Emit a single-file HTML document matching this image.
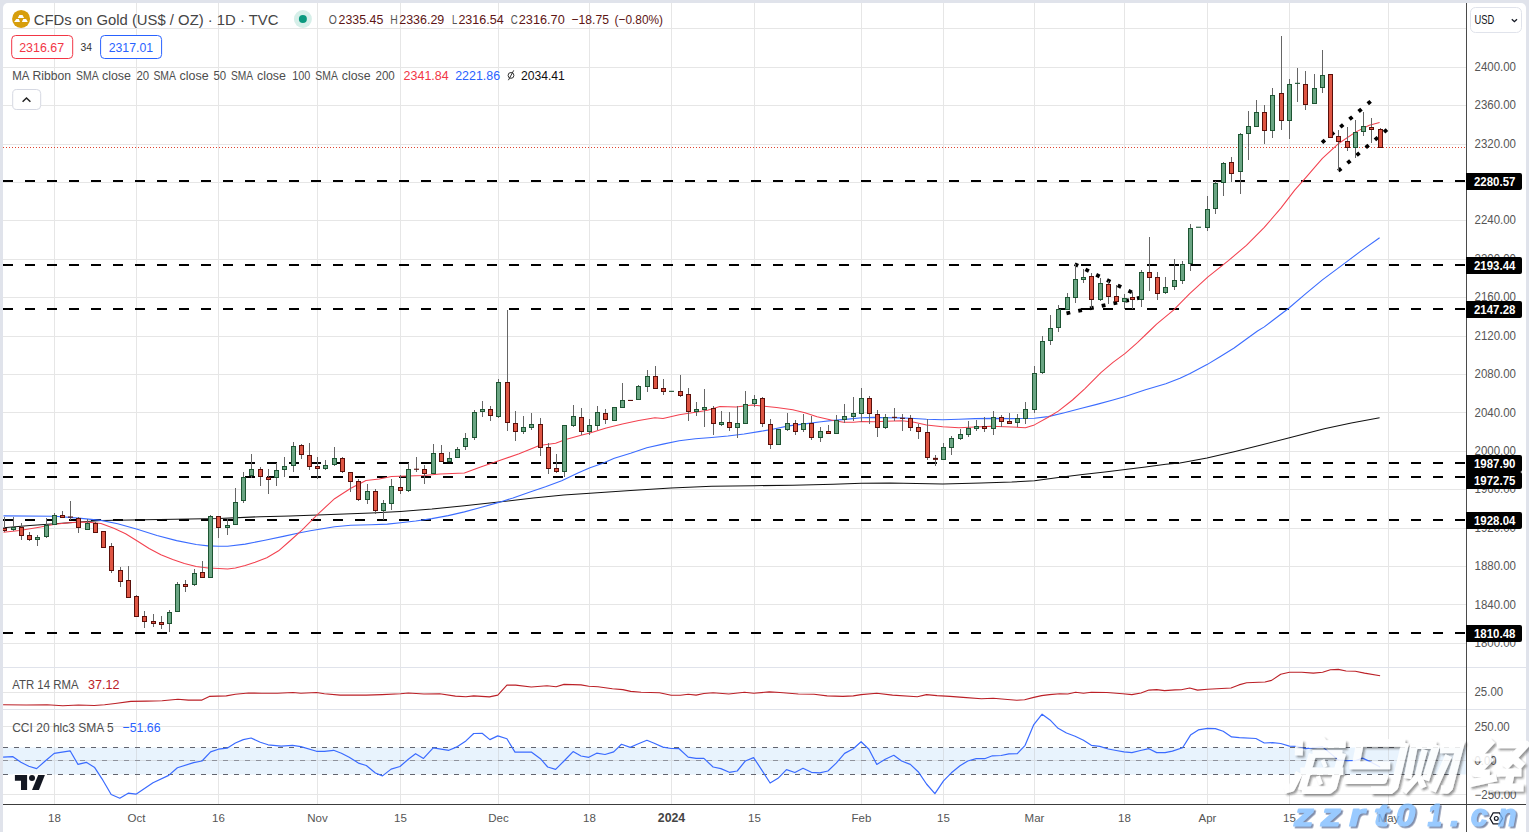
<!DOCTYPE html>
<html><head><meta charset="utf-8"><title>CFDs on Gold</title>
<style>html,body{margin:0;padding:0;background:#e0e3eb;}body{width:1529px;height:832px;overflow:hidden;font-family:"Liberation Sans",sans-serif;}</style>
</head><body>
<svg width="1529" height="832" viewBox="0 0 1529 832" font-family="Liberation Sans, sans-serif" style="display:block">
<defs>
<clipPath id="cm"><rect x="3" y="3" width="1463" height="664"/></clipPath>
<clipPath id="ca"><rect x="3" y="668" width="1463" height="41"/></clipPath>
<clipPath id="cc"><rect x="3" y="710" width="1463" height="94"/></clipPath>
<filter id="ws" x="-5%" y="-10%" width="115%" height="125%"><feDropShadow dx="2" dy="2" stdDeviation="1" flood-color="#222" flood-opacity="0.55"/></filter>
<filter id="bs" x="-5%" y="-10%" width="115%" height="130%"><feDropShadow dx="1.7" dy="1.7" stdDeviation="0.45" flood-color="#52658c" flood-opacity="0.95"/></filter>
</defs>
<rect width="1529" height="832" fill="#e0e3eb"/>
<path d="M3 832V8a5 5 0 0 1 5 -5H1521a5 5 0 0 1 5 5V832z" fill="#fff"/>
<rect x="54" y="3" width="1" height="664" fill="#e6e6e6"/>
<rect x="136" y="3" width="1" height="664" fill="#e6e6e6"/>
<rect x="218" y="3" width="1" height="664" fill="#e6e6e6"/>
<rect x="317" y="3" width="1" height="664" fill="#e6e6e6"/>
<rect x="400" y="3" width="1" height="664" fill="#e6e6e6"/>
<rect x="498" y="3" width="1" height="664" fill="#e6e6e6"/>
<rect x="589" y="3" width="1" height="664" fill="#e6e6e6"/>
<rect x="671" y="3" width="1" height="664" fill="#e6e6e6"/>
<rect x="754" y="3" width="1" height="664" fill="#e6e6e6"/>
<rect x="861" y="3" width="1" height="664" fill="#e6e6e6"/>
<rect x="943" y="3" width="1" height="664" fill="#e6e6e6"/>
<rect x="1034" y="3" width="1" height="664" fill="#e6e6e6"/>
<rect x="1124" y="3" width="1" height="664" fill="#e6e6e6"/>
<rect x="1207" y="3" width="1" height="664" fill="#e6e6e6"/>
<rect x="1289" y="3" width="1" height="664" fill="#e6e6e6"/>
<rect x="1388" y="3" width="1" height="664" fill="#e6e6e6"/>
<rect x="3" y="643" width="1463" height="1" fill="#e6e6e6"/>
<rect x="3" y="604" width="1463" height="1" fill="#e6e6e6"/>
<rect x="3" y="566" width="1463" height="1" fill="#e6e6e6"/>
<rect x="3" y="528" width="1463" height="1" fill="#e6e6e6"/>
<rect x="3" y="489" width="1463" height="1" fill="#e6e6e6"/>
<rect x="3" y="451" width="1463" height="1" fill="#e6e6e6"/>
<rect x="3" y="412" width="1463" height="1" fill="#e6e6e6"/>
<rect x="3" y="374" width="1463" height="1" fill="#e6e6e6"/>
<rect x="3" y="336" width="1463" height="1" fill="#e6e6e6"/>
<rect x="3" y="297" width="1463" height="1" fill="#e6e6e6"/>
<rect x="3" y="259" width="1463" height="1" fill="#e6e6e6"/>
<rect x="3" y="220" width="1463" height="1" fill="#e6e6e6"/>
<rect x="3" y="182" width="1463" height="1" fill="#e6e6e6"/>
<rect x="3" y="144" width="1463" height="1" fill="#e6e6e6"/>
<rect x="3" y="105" width="1463" height="1" fill="#e6e6e6"/>
<rect x="3" y="67" width="1463" height="1" fill="#e6e6e6"/>
<rect x="3" y="28" width="1463" height="1" fill="#e6e6e6"/>
<rect x="54" y="668" width="1" height="136" fill="#e6e6e6"/>
<rect x="136" y="668" width="1" height="136" fill="#e6e6e6"/>
<rect x="218" y="668" width="1" height="136" fill="#e6e6e6"/>
<rect x="317" y="668" width="1" height="136" fill="#e6e6e6"/>
<rect x="400" y="668" width="1" height="136" fill="#e6e6e6"/>
<rect x="498" y="668" width="1" height="136" fill="#e6e6e6"/>
<rect x="589" y="668" width="1" height="136" fill="#e6e6e6"/>
<rect x="671" y="668" width="1" height="136" fill="#e6e6e6"/>
<rect x="754" y="668" width="1" height="136" fill="#e6e6e6"/>
<rect x="861" y="668" width="1" height="136" fill="#e6e6e6"/>
<rect x="943" y="668" width="1" height="136" fill="#e6e6e6"/>
<rect x="1034" y="668" width="1" height="136" fill="#e6e6e6"/>
<rect x="1124" y="668" width="1" height="136" fill="#e6e6e6"/>
<rect x="1207" y="668" width="1" height="136" fill="#e6e6e6"/>
<rect x="1289" y="668" width="1" height="136" fill="#e6e6e6"/>
<rect x="1388" y="668" width="1" height="136" fill="#e6e6e6"/>
<rect x="3" y="692" width="1463" height="1" fill="#e6e6e6"/>
<rect x="3" y="726" width="1463" height="1" fill="#e6e6e6"/>
<rect x="3" y="760" width="1463" height="1" fill="#e6e6e6"/>
<rect x="3" y="794" width="1463" height="1" fill="#e6e6e6"/>
<rect x="3" y="667" width="1523" height="1" fill="#e0e3eb"/>
<rect x="3" y="709" width="1523" height="1" fill="#e0e3eb"/>
<g clip-path="url(#cm)">
<line x1="3" y1="181" x2="1466" y2="181" stroke="#000" stroke-width="2" stroke-dasharray="10 12"/>
<line x1="3" y1="265" x2="1466" y2="265" stroke="#000" stroke-width="2" stroke-dasharray="10 12"/>
<line x1="3" y1="309" x2="1466" y2="309" stroke="#000" stroke-width="2" stroke-dasharray="10 12"/>
<line x1="3" y1="463" x2="1466" y2="463" stroke="#000" stroke-width="2" stroke-dasharray="10 12"/>
<line x1="3" y1="477" x2="1466" y2="477" stroke="#000" stroke-width="2" stroke-dasharray="10 12"/>
<line x1="3" y1="520" x2="1466" y2="520" stroke="#000" stroke-width="2" stroke-dasharray="10 12"/>
<line x1="3" y1="633" x2="1466" y2="633" stroke="#000" stroke-width="2" stroke-dasharray="10 12"/>
<polyline fill="none" stroke="#111" stroke-width="1.05" stroke-linejoin="round"  points="3.5,527.7 30,525.5 55,523.7 80,522 101,520.5 160,519.5 218.8,518.4 260,516.7 290,516 317.4,515 371.1,513.1 400.5,511.5 431.9,509.1 464.4,505.8 498.8,502 533.3,497.9 563.7,494.9 590,493.2 630.6,490.4 671.1,488.1 711.7,486.3 754.2,485.7 792.8,485.3 833.3,484.3 861.7,483.3 890,483.1 942.7,484.1 981.2,483.1 1011.7,482.1 1034.4,480.7 1058.3,477.6 1082.6,474.4 1104.9,471.9 1125.2,469.5 1145.5,466.9 1165.8,464.2 1180,463 1207,458 1234.1,451.7 1261.2,445.1 1289.5,437.8 1324.3,428.8 1351.3,422.9 1379.6,417.8"/>
<polyline fill="none" stroke="#3b6cff" stroke-width="1.1" stroke-linejoin="round"  points="3.5,515.9 55,516.3 78.5,518.1 101,520.4 117.7,523.7 137.3,529.2 157,535.5 176.6,540.6 196.2,544.5 208,545.9 218.8,546.3 227.6,546.3 245.2,544.1 264.9,540.2 284.5,536.1 300,532.7 310.3,530.8 334.6,526.7 350.8,525.3 371.1,524.7 387.3,524.1 400.5,522.7 415.7,521 431.9,518.6 448.2,515.6 464.4,511.9 480.6,507.5 498.8,502.4 513,497.9 529.3,492.3 545.5,486.8 561.7,480.7 577.9,473 590,467.7 602.2,463.4 614.3,458.3 630.6,453.3 646.8,447.8 663,444.1 679.2,440.7 695.4,438.7 711.7,437.5 727.9,436 744.1,434 760.3,431.4 772.5,429.3 788.7,425.9 804.9,423.9 821.1,421.8 833.3,420.4 845.5,419.4 861.7,417.8 873.9,417.4 886,417.8 900,417.9 910.3,418.2 926.5,419.2 942.7,419.8 958.9,419.2 975.2,418.6 991.4,418.4 1011.7,418.6 1034.4,418.2 1048.2,416.6 1064.4,412.7 1080.6,408.5 1096.8,404.4 1113,400 1125.2,396.5 1145.5,389.8 1165.8,383.7 1180,378.3 1190.1,373.6 1207,364.6 1220,356.8 1234.1,348 1244.4,340.5 1257.5,331 1264.3,326.9 1287.8,309 1305.8,293.7 1322.4,279.9 1344.5,263.4 1361.1,250.9 1379.6,237.7"/>
<polyline fill="none" stroke="#f3414f" stroke-width="1.05" stroke-linejoin="round"  points="3.5,532.2 19.6,530.6 39.2,527.3 55,524.3 68.7,522.8 86.3,522 101,523.4 113.8,528.3 125.6,533.8 137.3,541 149.1,548.5 160.9,554.7 172.7,559.6 184.4,563.6 196.2,566.5 208,568.1 218.8,568.5 227.6,568.9 235.4,568.1 245.2,565.5 255.1,562.2 266.8,557.7 278.6,550.8 290.4,540.5 302.2,529.8 317.4,514.6 334.6,498.7 350.8,488.2 366,480.5 379.2,479.1 391.4,476.6 407.6,476 423.8,475.4 440,474 464.4,473 480.6,466.9 498.8,460.8 519.1,453.7 539.4,445.6 555.6,443.2 565.7,439.5 582,434.9 590,433 606.2,427.9 622.4,423.9 638.7,420.4 654.9,417.8 663,418.4 679.2,414.7 695.4,412.3 707.6,410.3 719.8,406.6 736,407 752.2,405 764.4,406.2 776.5,407.6 792.8,409.7 804.9,412.7 817.1,416.8 833.3,420.4 843.5,422.2 853.6,422.2 861.7,421.4 873.9,421.8 886,421.2 902.2,420.8 914.3,422.3 926.5,424.9 942.7,426.7 958.9,427.7 975.2,426.9 991.4,426.3 1011.7,426.9 1025.4,427.7 1034.4,424.9 1048.2,417.2 1058.3,411.1 1072.5,400 1084.7,388.8 1100.9,372.6 1113,362.4 1125.2,353.3 1137.4,342.6 1149.5,331 1156.6,324.1 1173.2,310.3 1189.7,293.7 1207.7,277.2 1228.4,260.6 1246.4,245.4 1264.3,227.4 1280.9,208.1 1294.7,190.1 1305.8,177.7 1322.4,158.4 1339,143.2 1355.5,132.1 1369.3,125.2 1379.6,122.4"/>
<line x1="3" y1="147.5" x2="1466" y2="147.5" stroke="#e0442f" stroke-width="1" stroke-dasharray="1 2"/>
<line x1="1074.7" y1="264.1" x2="1132.1" y2="292.5" stroke="#000" stroke-width="3.8" stroke-dasharray="3.8 8.2"/>
<line x1="1066.5" y1="313.3" x2="1140.9" y2="297.6" stroke="#000" stroke-width="3.8" stroke-dasharray="3.8 8.2"/>
<line x1="1322" y1="142.6" x2="1370.8" y2="101.2" stroke="#000" stroke-width="3.8" stroke-dasharray="3.8 8.2"/>
<line x1="1338.3" y1="170.9" x2="1387.1" y2="129.5" stroke="#000" stroke-width="3.8" stroke-dasharray="3.8 8.2"/>
<rect x="4" y="517" width="1" height="15" fill="#666"/>
<rect x="2" y="528" width="5" height="3" fill="#5a0f0a"/>
<rect x="3" y="529" width="3" height="1" fill="#de5543"/>
<rect x="13" y="517" width="1" height="14" fill="#666"/>
<rect x="11" y="527" width="5" height="3" fill="#1d5432"/>
<rect x="12" y="528" width="3" height="1" fill="#6aa583"/>
<rect x="21" y="523" width="1" height="17" fill="#666"/>
<rect x="19" y="527" width="5" height="9" fill="#5a0f0a"/>
<rect x="20" y="528" width="3" height="7" fill="#de5543"/>
<rect x="29" y="532" width="1" height="9" fill="#666"/>
<rect x="27" y="535" width="5" height="5" fill="#5a0f0a"/>
<rect x="28" y="536" width="3" height="3" fill="#de5543"/>
<rect x="37" y="535" width="1" height="11" fill="#666"/>
<rect x="35" y="537" width="5" height="3" fill="#1d5432"/>
<rect x="36" y="538" width="3" height="1" fill="#6aa583"/>
<rect x="46" y="518" width="1" height="20" fill="#666"/>
<rect x="44" y="525" width="5" height="12" fill="#1d5432"/>
<rect x="45" y="526" width="3" height="10" fill="#6aa583"/>
<rect x="54" y="513" width="1" height="12" fill="#666"/>
<rect x="52" y="515" width="5" height="10" fill="#1d5432"/>
<rect x="53" y="516" width="3" height="8" fill="#6aa583"/>
<rect x="62" y="511" width="1" height="7" fill="#666"/>
<rect x="60" y="515" width="5" height="3" fill="#5a0f0a"/>
<rect x="61" y="516" width="3" height="1" fill="#de5543"/>
<rect x="70" y="501" width="1" height="19" fill="#666"/>
<rect x="68" y="516.5" width="5" height="1.1" fill="#5a0f0a"/>
<rect x="78" y="517" width="1" height="16" fill="#666"/>
<rect x="76" y="518" width="5" height="10" fill="#5a0f0a"/>
<rect x="77" y="519" width="3" height="8" fill="#de5543"/>
<rect x="87" y="519" width="1" height="11" fill="#666"/>
<rect x="85" y="523" width="5" height="7" fill="#1d5432"/>
<rect x="86" y="524" width="3" height="5" fill="#6aa583"/>
<rect x="95" y="522" width="1" height="11" fill="#666"/>
<rect x="93" y="523" width="5" height="10" fill="#5a0f0a"/>
<rect x="94" y="524" width="3" height="8" fill="#de5543"/>
<rect x="103" y="531" width="1" height="17" fill="#666"/>
<rect x="101" y="531" width="5" height="17" fill="#5a0f0a"/>
<rect x="102" y="532" width="3" height="15" fill="#de5543"/>
<rect x="111" y="543" width="1" height="30" fill="#666"/>
<rect x="109" y="546" width="5" height="25" fill="#5a0f0a"/>
<rect x="110" y="547" width="3" height="23" fill="#de5543"/>
<rect x="120" y="567" width="1" height="20" fill="#666"/>
<rect x="118" y="570" width="5" height="12" fill="#5a0f0a"/>
<rect x="119" y="571" width="3" height="10" fill="#de5543"/>
<rect x="128" y="566" width="1" height="32" fill="#666"/>
<rect x="126" y="580" width="5" height="18" fill="#5a0f0a"/>
<rect x="127" y="581" width="3" height="16" fill="#de5543"/>
<rect x="136" y="595" width="1" height="22" fill="#666"/>
<rect x="134" y="596" width="5" height="21" fill="#5a0f0a"/>
<rect x="135" y="597" width="3" height="19" fill="#de5543"/>
<rect x="144" y="611" width="1" height="17" fill="#666"/>
<rect x="142" y="616" width="5" height="6" fill="#5a0f0a"/>
<rect x="143" y="617" width="3" height="4" fill="#de5543"/>
<rect x="153" y="614" width="1" height="13" fill="#666"/>
<rect x="151" y="621" width="5" height="3" fill="#5a0f0a"/>
<rect x="152" y="622" width="3" height="1" fill="#de5543"/>
<rect x="161" y="616" width="1" height="13" fill="#666"/>
<rect x="159" y="622" width="5" height="3" fill="#5a0f0a"/>
<rect x="160" y="623" width="3" height="1" fill="#de5543"/>
<rect x="169" y="610" width="1" height="22" fill="#666"/>
<rect x="167" y="612" width="5" height="12" fill="#1d5432"/>
<rect x="168" y="613" width="3" height="10" fill="#6aa583"/>
<rect x="177" y="582" width="1" height="30" fill="#666"/>
<rect x="175" y="584" width="5" height="28" fill="#1d5432"/>
<rect x="176" y="585" width="3" height="26" fill="#6aa583"/>
<rect x="185" y="580" width="1" height="12" fill="#666"/>
<rect x="183" y="584" width="5" height="3" fill="#5a0f0a"/>
<rect x="184" y="585" width="3" height="1" fill="#de5543"/>
<rect x="194" y="569" width="1" height="17" fill="#666"/>
<rect x="192" y="573" width="5" height="12" fill="#1d5432"/>
<rect x="193" y="574" width="3" height="10" fill="#6aa583"/>
<rect x="202" y="561" width="1" height="17" fill="#666"/>
<rect x="200" y="572" width="5" height="6" fill="#5a0f0a"/>
<rect x="201" y="573" width="3" height="4" fill="#de5543"/>
<rect x="210" y="515" width="1" height="63" fill="#666"/>
<rect x="208" y="516" width="5" height="62" fill="#1d5432"/>
<rect x="209" y="517" width="3" height="60" fill="#6aa583"/>
<rect x="218" y="516" width="1" height="22" fill="#666"/>
<rect x="216" y="516" width="5" height="12" fill="#5a0f0a"/>
<rect x="217" y="517" width="3" height="10" fill="#de5543"/>
<rect x="227" y="518" width="1" height="17" fill="#666"/>
<rect x="225" y="525" width="5" height="3" fill="#1d5432"/>
<rect x="226" y="526" width="3" height="1" fill="#6aa583"/>
<rect x="235" y="488" width="1" height="37" fill="#666"/>
<rect x="233" y="502" width="5" height="23" fill="#1d5432"/>
<rect x="234" y="503" width="3" height="21" fill="#6aa583"/>
<rect x="243" y="472" width="1" height="31" fill="#666"/>
<rect x="241" y="477" width="5" height="24" fill="#1d5432"/>
<rect x="242" y="478" width="3" height="22" fill="#6aa583"/>
<rect x="251" y="454" width="1" height="24" fill="#666"/>
<rect x="249" y="469" width="5" height="7" fill="#1d5432"/>
<rect x="250" y="470" width="3" height="5" fill="#6aa583"/>
<rect x="260" y="467" width="1" height="19" fill="#666"/>
<rect x="258" y="469" width="5" height="8" fill="#5a0f0a"/>
<rect x="259" y="470" width="3" height="6" fill="#de5543"/>
<rect x="268" y="469" width="1" height="25" fill="#666"/>
<rect x="266" y="477" width="5" height="3" fill="#5a0f0a"/>
<rect x="267" y="478" width="3" height="1" fill="#de5543"/>
<rect x="276" y="463" width="1" height="23" fill="#666"/>
<rect x="274" y="470" width="5" height="8" fill="#1d5432"/>
<rect x="275" y="471" width="3" height="6" fill="#6aa583"/>
<rect x="284" y="457" width="1" height="20" fill="#666"/>
<rect x="282" y="466" width="5" height="4" fill="#1d5432"/>
<rect x="283" y="467" width="3" height="2" fill="#6aa583"/>
<rect x="293" y="442" width="1" height="30" fill="#666"/>
<rect x="291" y="446" width="5" height="20" fill="#1d5432"/>
<rect x="292" y="447" width="3" height="18" fill="#6aa583"/>
<rect x="301" y="444" width="1" height="15" fill="#666"/>
<rect x="299" y="445" width="5" height="10" fill="#5a0f0a"/>
<rect x="300" y="446" width="3" height="8" fill="#de5543"/>
<rect x="309" y="443" width="1" height="27" fill="#666"/>
<rect x="307" y="455" width="5" height="12" fill="#5a0f0a"/>
<rect x="308" y="456" width="3" height="10" fill="#de5543"/>
<rect x="317" y="457" width="1" height="22" fill="#666"/>
<rect x="315" y="466" width="5" height="3" fill="#5a0f0a"/>
<rect x="316" y="467" width="3" height="1" fill="#de5543"/>
<rect x="325" y="460" width="1" height="10" fill="#666"/>
<rect x="323" y="465" width="5" height="4" fill="#1d5432"/>
<rect x="324" y="466" width="3" height="2" fill="#6aa583"/>
<rect x="334" y="447" width="1" height="19" fill="#666"/>
<rect x="332" y="458" width="5" height="7" fill="#1d5432"/>
<rect x="333" y="459" width="3" height="5" fill="#6aa583"/>
<rect x="342" y="457" width="1" height="16" fill="#666"/>
<rect x="340" y="458" width="5" height="14" fill="#5a0f0a"/>
<rect x="341" y="459" width="3" height="12" fill="#de5543"/>
<rect x="350" y="472" width="1" height="20" fill="#666"/>
<rect x="348" y="472" width="5" height="10" fill="#5a0f0a"/>
<rect x="349" y="473" width="3" height="8" fill="#de5543"/>
<rect x="358" y="479" width="1" height="22" fill="#666"/>
<rect x="356" y="481" width="5" height="19" fill="#5a0f0a"/>
<rect x="357" y="482" width="3" height="17" fill="#de5543"/>
<rect x="367" y="484" width="1" height="20" fill="#666"/>
<rect x="365" y="491" width="5" height="9" fill="#1d5432"/>
<rect x="366" y="492" width="3" height="7" fill="#6aa583"/>
<rect x="375" y="489" width="1" height="25" fill="#666"/>
<rect x="373" y="491" width="5" height="20" fill="#5a0f0a"/>
<rect x="374" y="492" width="3" height="18" fill="#de5543"/>
<rect x="383" y="500" width="1" height="20" fill="#666"/>
<rect x="381" y="503" width="5" height="8" fill="#1d5432"/>
<rect x="382" y="504" width="3" height="6" fill="#6aa583"/>
<rect x="391" y="479" width="1" height="31" fill="#666"/>
<rect x="389" y="486" width="5" height="18" fill="#1d5432"/>
<rect x="390" y="487" width="3" height="16" fill="#6aa583"/>
<rect x="400" y="475" width="1" height="19" fill="#666"/>
<rect x="398" y="487" width="5" height="4" fill="#5a0f0a"/>
<rect x="399" y="488" width="3" height="2" fill="#de5543"/>
<rect x="408" y="463" width="1" height="29" fill="#666"/>
<rect x="406" y="469" width="5" height="22" fill="#1d5432"/>
<rect x="407" y="470" width="3" height="20" fill="#6aa583"/>
<rect x="416" y="457" width="1" height="15" fill="#666"/>
<rect x="414" y="468.7" width="5" height="1.1" fill="#5a0f0a"/>
<rect x="424" y="465" width="1" height="19" fill="#666"/>
<rect x="422" y="469" width="5" height="5" fill="#5a0f0a"/>
<rect x="423" y="470" width="3" height="3" fill="#de5543"/>
<rect x="433" y="444" width="1" height="30" fill="#666"/>
<rect x="431" y="453" width="5" height="21" fill="#1d5432"/>
<rect x="432" y="454" width="3" height="19" fill="#6aa583"/>
<rect x="441" y="445" width="1" height="17" fill="#666"/>
<rect x="439" y="453" width="5" height="9" fill="#5a0f0a"/>
<rect x="440" y="454" width="3" height="7" fill="#de5543"/>
<rect x="449" y="452" width="1" height="10" fill="#666"/>
<rect x="447" y="458" width="5" height="4" fill="#1d5432"/>
<rect x="448" y="459" width="3" height="2" fill="#6aa583"/>
<rect x="457" y="447" width="1" height="11" fill="#666"/>
<rect x="455" y="449" width="5" height="9" fill="#1d5432"/>
<rect x="456" y="450" width="3" height="7" fill="#6aa583"/>
<rect x="465" y="433" width="1" height="17" fill="#666"/>
<rect x="463" y="438" width="5" height="9" fill="#1d5432"/>
<rect x="464" y="439" width="3" height="7" fill="#6aa583"/>
<rect x="474" y="410" width="1" height="30" fill="#666"/>
<rect x="472" y="412" width="5" height="26" fill="#1d5432"/>
<rect x="473" y="413" width="3" height="24" fill="#6aa583"/>
<rect x="482" y="401" width="1" height="16" fill="#666"/>
<rect x="480" y="409" width="5" height="3" fill="#1d5432"/>
<rect x="481" y="410" width="3" height="1" fill="#6aa583"/>
<rect x="490" y="406" width="1" height="15" fill="#666"/>
<rect x="488" y="409" width="5" height="7" fill="#5a0f0a"/>
<rect x="489" y="410" width="3" height="5" fill="#de5543"/>
<rect x="498" y="379" width="1" height="39" fill="#666"/>
<rect x="496" y="382" width="5" height="35" fill="#1d5432"/>
<rect x="497" y="383" width="3" height="33" fill="#6aa583"/>
<rect x="507" y="310" width="1" height="121" fill="#666"/>
<rect x="505" y="382" width="5" height="41" fill="#5a0f0a"/>
<rect x="506" y="383" width="3" height="39" fill="#de5543"/>
<rect x="515" y="411" width="1" height="30" fill="#666"/>
<rect x="513" y="423" width="5" height="9" fill="#5a0f0a"/>
<rect x="514" y="424" width="3" height="7" fill="#de5543"/>
<rect x="523" y="416" width="1" height="18" fill="#666"/>
<rect x="521" y="427" width="5" height="5" fill="#1d5432"/>
<rect x="522" y="428" width="3" height="3" fill="#6aa583"/>
<rect x="531" y="413" width="1" height="17" fill="#666"/>
<rect x="529" y="424" width="5" height="4" fill="#1d5432"/>
<rect x="530" y="425" width="3" height="2" fill="#6aa583"/>
<rect x="540" y="418" width="1" height="38" fill="#666"/>
<rect x="538" y="424" width="5" height="24" fill="#5a0f0a"/>
<rect x="539" y="425" width="3" height="22" fill="#de5543"/>
<rect x="548" y="443" width="1" height="31" fill="#666"/>
<rect x="546" y="447" width="5" height="22" fill="#5a0f0a"/>
<rect x="547" y="448" width="3" height="20" fill="#de5543"/>
<rect x="556" y="454" width="1" height="19" fill="#666"/>
<rect x="554" y="468" width="5" height="4" fill="#5a0f0a"/>
<rect x="555" y="469" width="3" height="2" fill="#de5543"/>
<rect x="564" y="425" width="1" height="52" fill="#666"/>
<rect x="562" y="425" width="5" height="47" fill="#1d5432"/>
<rect x="563" y="426" width="3" height="45" fill="#6aa583"/>
<rect x="573" y="405" width="1" height="22" fill="#666"/>
<rect x="571" y="416" width="5" height="10" fill="#1d5432"/>
<rect x="572" y="417" width="3" height="8" fill="#6aa583"/>
<rect x="581" y="408" width="1" height="27" fill="#666"/>
<rect x="579" y="417" width="5" height="15" fill="#5a0f0a"/>
<rect x="580" y="418" width="3" height="13" fill="#de5543"/>
<rect x="589" y="419" width="1" height="16" fill="#666"/>
<rect x="587" y="425" width="5" height="7" fill="#1d5432"/>
<rect x="588" y="426" width="3" height="5" fill="#6aa583"/>
<rect x="597" y="406" width="1" height="24" fill="#666"/>
<rect x="595" y="412" width="5" height="14" fill="#1d5432"/>
<rect x="596" y="413" width="3" height="12" fill="#6aa583"/>
<rect x="605" y="409" width="1" height="15" fill="#666"/>
<rect x="603" y="413" width="5" height="7" fill="#5a0f0a"/>
<rect x="604" y="414" width="3" height="5" fill="#de5543"/>
<rect x="614" y="407" width="1" height="14" fill="#666"/>
<rect x="612" y="407" width="5" height="14" fill="#1d5432"/>
<rect x="613" y="408" width="3" height="12" fill="#6aa583"/>
<rect x="622" y="383" width="1" height="25" fill="#666"/>
<rect x="620" y="400" width="5" height="8" fill="#1d5432"/>
<rect x="621" y="401" width="3" height="6" fill="#6aa583"/>
<rect x="630" y="400" width="1" height="0.4" fill="#666"/>
<rect x="628" y="399.9" width="5" height="1.1" fill="#5a0f0a"/>
<rect x="638" y="385" width="1" height="15" fill="#666"/>
<rect x="636" y="386" width="5" height="14" fill="#1d5432"/>
<rect x="637" y="387" width="3" height="12" fill="#6aa583"/>
<rect x="647" y="370" width="1" height="22" fill="#666"/>
<rect x="645" y="376" width="5" height="11" fill="#1d5432"/>
<rect x="646" y="377" width="3" height="9" fill="#6aa583"/>
<rect x="655" y="366" width="1" height="23" fill="#666"/>
<rect x="653" y="376" width="5" height="13" fill="#5a0f0a"/>
<rect x="654" y="377" width="3" height="11" fill="#de5543"/>
<rect x="663" y="379" width="1" height="16" fill="#666"/>
<rect x="661" y="388" width="5" height="4" fill="#5a0f0a"/>
<rect x="662" y="389" width="3" height="2" fill="#de5543"/>
<rect x="671" y="391" width="1" height="0.3" fill="#666"/>
<rect x="669" y="390.8" width="5" height="1.1" fill="#1d5432"/>
<rect x="680" y="375" width="1" height="22" fill="#666"/>
<rect x="678" y="391" width="5" height="5" fill="#5a0f0a"/>
<rect x="679" y="392" width="3" height="3" fill="#de5543"/>
<rect x="688" y="388" width="1" height="33" fill="#666"/>
<rect x="686" y="394" width="5" height="18" fill="#5a0f0a"/>
<rect x="687" y="395" width="3" height="16" fill="#de5543"/>
<rect x="696" y="402" width="1" height="14" fill="#666"/>
<rect x="694" y="409" width="5" height="3" fill="#1d5432"/>
<rect x="695" y="410" width="3" height="1" fill="#6aa583"/>
<rect x="704" y="389" width="1" height="38" fill="#666"/>
<rect x="702" y="407" width="5" height="3" fill="#1d5432"/>
<rect x="703" y="408" width="3" height="1" fill="#6aa583"/>
<rect x="713" y="406" width="1" height="29" fill="#666"/>
<rect x="711" y="408" width="5" height="16" fill="#5a0f0a"/>
<rect x="712" y="409" width="3" height="14" fill="#de5543"/>
<rect x="721" y="411" width="1" height="15" fill="#666"/>
<rect x="719" y="422" width="5" height="3" fill="#1d5432"/>
<rect x="720" y="423" width="3" height="1" fill="#6aa583"/>
<rect x="729" y="412" width="1" height="19" fill="#666"/>
<rect x="727" y="422" width="5" height="6" fill="#5a0f0a"/>
<rect x="728" y="423" width="3" height="4" fill="#de5543"/>
<rect x="737" y="406" width="1" height="32" fill="#666"/>
<rect x="735" y="423" width="5" height="5" fill="#1d5432"/>
<rect x="736" y="424" width="3" height="3" fill="#6aa583"/>
<rect x="745" y="391" width="1" height="33" fill="#666"/>
<rect x="743" y="404" width="5" height="20" fill="#1d5432"/>
<rect x="744" y="405" width="3" height="18" fill="#6aa583"/>
<rect x="754" y="395" width="1" height="12" fill="#666"/>
<rect x="752" y="399" width="5" height="5" fill="#1d5432"/>
<rect x="753" y="400" width="3" height="3" fill="#6aa583"/>
<rect x="762" y="397" width="1" height="30" fill="#666"/>
<rect x="760" y="398" width="5" height="26" fill="#5a0f0a"/>
<rect x="761" y="399" width="3" height="24" fill="#de5543"/>
<rect x="770" y="419" width="1" height="30" fill="#666"/>
<rect x="768" y="424" width="5" height="21" fill="#5a0f0a"/>
<rect x="769" y="425" width="3" height="19" fill="#de5543"/>
<rect x="778" y="429" width="1" height="16" fill="#666"/>
<rect x="776" y="429" width="5" height="16" fill="#1d5432"/>
<rect x="777" y="430" width="3" height="14" fill="#6aa583"/>
<rect x="787" y="413" width="1" height="18" fill="#666"/>
<rect x="785" y="423" width="5" height="7" fill="#1d5432"/>
<rect x="786" y="424" width="3" height="5" fill="#6aa583"/>
<rect x="795" y="420" width="1" height="15" fill="#666"/>
<rect x="793" y="423" width="5" height="9" fill="#5a0f0a"/>
<rect x="794" y="424" width="3" height="7" fill="#de5543"/>
<rect x="803" y="414" width="1" height="18" fill="#666"/>
<rect x="801" y="423" width="5" height="7" fill="#1d5432"/>
<rect x="802" y="424" width="3" height="5" fill="#6aa583"/>
<rect x="811" y="416" width="1" height="24" fill="#666"/>
<rect x="809" y="423" width="5" height="15" fill="#5a0f0a"/>
<rect x="810" y="424" width="3" height="13" fill="#de5543"/>
<rect x="820" y="427" width="1" height="15" fill="#666"/>
<rect x="818" y="431" width="5" height="7" fill="#1d5432"/>
<rect x="819" y="432" width="3" height="5" fill="#6aa583"/>
<rect x="828" y="425" width="1" height="9" fill="#666"/>
<rect x="826" y="431" width="5" height="3" fill="#5a0f0a"/>
<rect x="827" y="432" width="3" height="1" fill="#de5543"/>
<rect x="836" y="415" width="1" height="19" fill="#666"/>
<rect x="834" y="420" width="5" height="14" fill="#1d5432"/>
<rect x="835" y="421" width="3" height="12" fill="#6aa583"/>
<rect x="844" y="404" width="1" height="19" fill="#666"/>
<rect x="842" y="416" width="5" height="4" fill="#1d5432"/>
<rect x="843" y="417" width="3" height="2" fill="#6aa583"/>
<rect x="853" y="397" width="1" height="24" fill="#666"/>
<rect x="851" y="413" width="5" height="4" fill="#1d5432"/>
<rect x="852" y="414" width="3" height="2" fill="#6aa583"/>
<rect x="861" y="388" width="1" height="34" fill="#666"/>
<rect x="859" y="398" width="5" height="16" fill="#1d5432"/>
<rect x="860" y="399" width="3" height="14" fill="#6aa583"/>
<rect x="869" y="396" width="1" height="28" fill="#666"/>
<rect x="867" y="398" width="5" height="16" fill="#5a0f0a"/>
<rect x="868" y="399" width="3" height="14" fill="#de5543"/>
<rect x="877" y="410" width="1" height="27" fill="#666"/>
<rect x="875" y="414" width="5" height="14" fill="#5a0f0a"/>
<rect x="876" y="415" width="3" height="12" fill="#de5543"/>
<rect x="885" y="414" width="1" height="15" fill="#666"/>
<rect x="883" y="417" width="5" height="11" fill="#1d5432"/>
<rect x="884" y="418" width="3" height="9" fill="#6aa583"/>
<rect x="894" y="408" width="1" height="13" fill="#666"/>
<rect x="892" y="416.8" width="5" height="1.1" fill="#5a0f0a"/>
<rect x="902" y="414" width="1" height="17" fill="#666"/>
<rect x="900" y="417.8" width="5" height="1.1" fill="#5a0f0a"/>
<rect x="910" y="415" width="1" height="16" fill="#666"/>
<rect x="908" y="418" width="5" height="10" fill="#5a0f0a"/>
<rect x="909" y="419" width="3" height="8" fill="#de5543"/>
<rect x="918" y="424" width="1" height="15" fill="#666"/>
<rect x="916" y="427" width="5" height="5" fill="#5a0f0a"/>
<rect x="917" y="428" width="3" height="3" fill="#de5543"/>
<rect x="927" y="419" width="1" height="41" fill="#666"/>
<rect x="925" y="432" width="5" height="26" fill="#5a0f0a"/>
<rect x="926" y="433" width="3" height="24" fill="#de5543"/>
<rect x="935" y="455" width="1" height="11" fill="#666"/>
<rect x="933" y="457.85" width="5" height="2" fill="#5a0f0a"/>
<rect x="943" y="443" width="1" height="17" fill="#666"/>
<rect x="941" y="447" width="5" height="13" fill="#1d5432"/>
<rect x="942" y="448" width="3" height="11" fill="#6aa583"/>
<rect x="951" y="436" width="1" height="19" fill="#666"/>
<rect x="949" y="438" width="5" height="10" fill="#1d5432"/>
<rect x="950" y="439" width="3" height="8" fill="#6aa583"/>
<rect x="960" y="429" width="1" height="11" fill="#666"/>
<rect x="958" y="434" width="5" height="5" fill="#1d5432"/>
<rect x="959" y="435" width="3" height="3" fill="#6aa583"/>
<rect x="968" y="421" width="1" height="16" fill="#666"/>
<rect x="966" y="428" width="5" height="7" fill="#1d5432"/>
<rect x="967" y="429" width="3" height="5" fill="#6aa583"/>
<rect x="976" y="420" width="1" height="11" fill="#666"/>
<rect x="974" y="426" width="5" height="3" fill="#1d5432"/>
<rect x="975" y="427" width="3" height="1" fill="#6aa583"/>
<rect x="984" y="417" width="1" height="15" fill="#666"/>
<rect x="982" y="426" width="5" height="3" fill="#5a0f0a"/>
<rect x="983" y="427" width="3" height="1" fill="#de5543"/>
<rect x="993" y="411" width="1" height="24" fill="#666"/>
<rect x="991" y="417" width="5" height="12" fill="#1d5432"/>
<rect x="992" y="418" width="3" height="10" fill="#6aa583"/>
<rect x="1001" y="415" width="1" height="12" fill="#666"/>
<rect x="999" y="417" width="5" height="5" fill="#5a0f0a"/>
<rect x="1000" y="418" width="3" height="3" fill="#de5543"/>
<rect x="1009" y="413" width="1" height="10" fill="#666"/>
<rect x="1007" y="421" width="5" height="3" fill="#5a0f0a"/>
<rect x="1008" y="422" width="3" height="1" fill="#de5543"/>
<rect x="1017" y="414" width="1" height="13" fill="#666"/>
<rect x="1015" y="418" width="5" height="5" fill="#1d5432"/>
<rect x="1016" y="419" width="3" height="3" fill="#6aa583"/>
<rect x="1025" y="402" width="1" height="22" fill="#666"/>
<rect x="1023" y="409" width="5" height="10" fill="#1d5432"/>
<rect x="1024" y="410" width="3" height="8" fill="#6aa583"/>
<rect x="1034" y="366" width="1" height="47" fill="#666"/>
<rect x="1032" y="373" width="5" height="37" fill="#1d5432"/>
<rect x="1033" y="374" width="3" height="35" fill="#6aa583"/>
<rect x="1042" y="336" width="1" height="38" fill="#666"/>
<rect x="1040" y="341" width="5" height="32" fill="#1d5432"/>
<rect x="1041" y="342" width="3" height="30" fill="#6aa583"/>
<rect x="1050" y="315" width="1" height="30" fill="#666"/>
<rect x="1048" y="328" width="5" height="13" fill="#1d5432"/>
<rect x="1049" y="329" width="3" height="11" fill="#6aa583"/>
<rect x="1058" y="305" width="1" height="27" fill="#666"/>
<rect x="1056" y="309" width="5" height="19" fill="#1d5432"/>
<rect x="1057" y="310" width="3" height="17" fill="#6aa583"/>
<rect x="1067" y="293" width="1" height="17" fill="#666"/>
<rect x="1065" y="297" width="5" height="13" fill="#1d5432"/>
<rect x="1066" y="298" width="3" height="11" fill="#6aa583"/>
<rect x="1075" y="264" width="1" height="39" fill="#666"/>
<rect x="1073" y="279" width="5" height="19" fill="#1d5432"/>
<rect x="1074" y="280" width="3" height="17" fill="#6aa583"/>
<rect x="1083" y="269" width="1" height="14" fill="#666"/>
<rect x="1081" y="277" width="5" height="3" fill="#1d5432"/>
<rect x="1082" y="278" width="3" height="1" fill="#6aa583"/>
<rect x="1091" y="273" width="1" height="35" fill="#666"/>
<rect x="1089" y="276" width="5" height="24" fill="#5a0f0a"/>
<rect x="1090" y="277" width="3" height="22" fill="#de5543"/>
<rect x="1100" y="278" width="1" height="23" fill="#666"/>
<rect x="1098" y="283" width="5" height="17" fill="#1d5432"/>
<rect x="1099" y="284" width="3" height="15" fill="#6aa583"/>
<rect x="1108" y="281" width="1" height="23" fill="#666"/>
<rect x="1106" y="284" width="5" height="13" fill="#5a0f0a"/>
<rect x="1107" y="285" width="3" height="11" fill="#de5543"/>
<rect x="1116" y="285" width="1" height="17" fill="#666"/>
<rect x="1114" y="296" width="5" height="6" fill="#5a0f0a"/>
<rect x="1115" y="297" width="3" height="4" fill="#de5543"/>
<rect x="1124" y="294" width="1" height="15" fill="#666"/>
<rect x="1122" y="298" width="5" height="4" fill="#1d5432"/>
<rect x="1123" y="299" width="3" height="2" fill="#6aa583"/>
<rect x="1132" y="292" width="1" height="17" fill="#666"/>
<rect x="1130" y="297" width="5" height="3" fill="#5a0f0a"/>
<rect x="1131" y="298" width="3" height="1" fill="#de5543"/>
<rect x="1141" y="270" width="1" height="37" fill="#666"/>
<rect x="1139" y="272" width="5" height="28" fill="#1d5432"/>
<rect x="1140" y="273" width="3" height="26" fill="#6aa583"/>
<rect x="1149" y="237" width="1" height="54" fill="#666"/>
<rect x="1147" y="272" width="5" height="6" fill="#5a0f0a"/>
<rect x="1148" y="273" width="3" height="4" fill="#de5543"/>
<rect x="1157" y="272" width="1" height="28" fill="#666"/>
<rect x="1155" y="277" width="5" height="17" fill="#5a0f0a"/>
<rect x="1156" y="278" width="3" height="15" fill="#de5543"/>
<rect x="1165" y="277" width="1" height="17" fill="#666"/>
<rect x="1163" y="287" width="5" height="6" fill="#1d5432"/>
<rect x="1164" y="288" width="3" height="4" fill="#6aa583"/>
<rect x="1174" y="259" width="1" height="31" fill="#666"/>
<rect x="1172" y="280" width="5" height="7" fill="#1d5432"/>
<rect x="1173" y="281" width="3" height="5" fill="#6aa583"/>
<rect x="1182" y="261" width="1" height="23" fill="#666"/>
<rect x="1180" y="264" width="5" height="17" fill="#1d5432"/>
<rect x="1181" y="265" width="3" height="15" fill="#6aa583"/>
<rect x="1190" y="224" width="1" height="47" fill="#666"/>
<rect x="1188" y="228" width="5" height="36" fill="#1d5432"/>
<rect x="1189" y="229" width="3" height="34" fill="#6aa583"/>
<rect x="1196" y="226.7" width="5" height="1.1" fill="#1d5432"/>
<rect x="1207" y="196" width="1" height="35" fill="#666"/>
<rect x="1205" y="209" width="5" height="19" fill="#1d5432"/>
<rect x="1206" y="210" width="3" height="17" fill="#6aa583"/>
<rect x="1215" y="181" width="1" height="33" fill="#666"/>
<rect x="1213" y="183" width="5" height="26" fill="#1d5432"/>
<rect x="1214" y="184" width="3" height="24" fill="#6aa583"/>
<rect x="1223" y="162" width="1" height="34" fill="#666"/>
<rect x="1221" y="163" width="5" height="20" fill="#1d5432"/>
<rect x="1222" y="164" width="3" height="18" fill="#6aa583"/>
<rect x="1231" y="157" width="1" height="25" fill="#666"/>
<rect x="1229" y="162" width="5" height="12" fill="#5a0f0a"/>
<rect x="1230" y="163" width="3" height="10" fill="#de5543"/>
<rect x="1240" y="133" width="1" height="61" fill="#666"/>
<rect x="1238" y="134" width="5" height="38" fill="#1d5432"/>
<rect x="1239" y="135" width="3" height="36" fill="#6aa583"/>
<rect x="1248" y="111" width="1" height="49" fill="#666"/>
<rect x="1246" y="126" width="5" height="8" fill="#1d5432"/>
<rect x="1247" y="127" width="3" height="6" fill="#6aa583"/>
<rect x="1256" y="100" width="1" height="27" fill="#666"/>
<rect x="1254" y="112" width="5" height="15" fill="#1d5432"/>
<rect x="1255" y="113" width="3" height="13" fill="#6aa583"/>
<rect x="1264" y="105" width="1" height="39" fill="#666"/>
<rect x="1262" y="112" width="5" height="19" fill="#5a0f0a"/>
<rect x="1263" y="113" width="3" height="17" fill="#de5543"/>
<rect x="1272" y="88" width="1" height="50" fill="#666"/>
<rect x="1270" y="95" width="5" height="36" fill="#1d5432"/>
<rect x="1271" y="96" width="3" height="34" fill="#6aa583"/>
<rect x="1281" y="36" width="1" height="94" fill="#666"/>
<rect x="1279" y="93" width="5" height="28" fill="#5a0f0a"/>
<rect x="1280" y="94" width="3" height="26" fill="#de5543"/>
<rect x="1289" y="79" width="1" height="60" fill="#666"/>
<rect x="1287" y="84" width="5" height="37" fill="#1d5432"/>
<rect x="1288" y="85" width="3" height="35" fill="#6aa583"/>
<rect x="1297" y="68" width="1" height="34" fill="#666"/>
<rect x="1295" y="82.8" width="5" height="1.1" fill="#1d5432"/>
<rect x="1305" y="71" width="1" height="39" fill="#666"/>
<rect x="1303" y="84" width="5" height="21" fill="#5a0f0a"/>
<rect x="1304" y="85" width="3" height="19" fill="#de5543"/>
<rect x="1314" y="74" width="1" height="30" fill="#666"/>
<rect x="1312" y="88" width="5" height="16" fill="#1d5432"/>
<rect x="1313" y="89" width="3" height="14" fill="#6aa583"/>
<rect x="1322" y="50" width="1" height="43" fill="#666"/>
<rect x="1320" y="75" width="5" height="13" fill="#1d5432"/>
<rect x="1321" y="76" width="3" height="11" fill="#6aa583"/>
<rect x="1330" y="74" width="1" height="64" fill="#666"/>
<rect x="1328" y="74" width="5" height="64" fill="#5a0f0a"/>
<rect x="1329" y="75" width="3" height="62" fill="#de5543"/>
<rect x="1338" y="130" width="1" height="41" fill="#666"/>
<rect x="1336" y="136" width="5" height="6" fill="#5a0f0a"/>
<rect x="1337" y="137" width="3" height="4" fill="#de5543"/>
<rect x="1347" y="127" width="1" height="24" fill="#666"/>
<rect x="1345" y="141" width="5" height="7" fill="#5a0f0a"/>
<rect x="1346" y="142" width="3" height="5" fill="#de5543"/>
<rect x="1355" y="120" width="1" height="38" fill="#666"/>
<rect x="1353" y="132" width="5" height="16" fill="#1d5432"/>
<rect x="1354" y="133" width="3" height="14" fill="#6aa583"/>
<rect x="1363" y="112" width="1" height="24" fill="#666"/>
<rect x="1361" y="126" width="5" height="6" fill="#1d5432"/>
<rect x="1362" y="127" width="3" height="4" fill="#6aa583"/>
<rect x="1371" y="118" width="1" height="25" fill="#666"/>
<rect x="1369" y="127" width="5" height="3" fill="#5a0f0a"/>
<rect x="1370" y="128" width="3" height="1" fill="#de5543"/>
<rect x="1380" y="128" width="1" height="20" fill="#666"/>
<rect x="1378" y="129" width="5" height="19" fill="#5a0f0a"/>
<rect x="1379" y="130" width="3" height="17" fill="#de5543"/>
</g>
<g clip-path="url(#ca)">
<polyline fill="none" stroke="#bb2027" stroke-width="1.1" stroke-linejoin="round"  points="3.1,704.8 26.2,705 47.1,704.8 62.8,705.8 78.5,705 94.2,705.5 104.6,704.8 115.1,703.5 130.8,701.4 146.5,701.1 162.2,700.8 177.9,699.3 188.4,700.1 202,700.1 209.3,696.4 226.3,695.9 235.4,694.3 248.5,693 261.6,693.3 277.3,693.3 293,692.5 300.9,693.3 316.5,692.5 324.4,693.8 340.1,695.1 366.3,695.1 382,694.6 400.5,693.8 408.3,693 424,694 439.7,693.8 455.4,696.1 465.9,696.7 473.7,695.9 489.4,696.9 497.8,695.1 506.9,685.1 515.6,685.1 531.3,687 547,685.7 556.1,686.7 564,684.4 581,684.9 588.8,686.2 598,686.7 612.4,688.8 622.8,689.6 630.7,691.4 641.1,692.2 659.5,692.7 671.2,695.3 680.4,695.3 688.2,694.3 696.1,695.1 703.9,693.5 713.1,692.7 728.8,694 744.5,692.2 753.6,693.3 769.3,691.9 780,692.5 798.3,694 814,694.3 827.1,695.9 842.8,696.4 853.3,695.9 861.1,694.6 876.8,693.3 892.5,695.1 917.3,696.7 926.5,694.6 937,695.6 950,696.4 963.1,697.4 981.4,698.7 993.2,698.2 1007.6,699.5 1016.8,700.3 1024.6,699.8 1033.8,697.4 1041.6,695.6 1049.5,694.6 1059.9,693.8 1067.8,694 1075.6,692.2 1083.5,693.3 1091.3,692.2 1107,692.5 1122.7,693.8 1131.9,694.6 1141,693 1148.9,690.1 1156.7,689.6 1164.6,690.6 1175,689.9 1181.3,689.8 1189.7,688 1197.5,690.1 1207.5,689.3 1231,688 1238.9,684.9 1246.7,682.8 1265,682 1271.6,680.4 1280.7,674.2 1289.4,672.3 1301.7,672.3 1313.4,673.1 1322.6,672.3 1330.4,669.7 1338.3,669.4 1346.1,671 1355.3,671.3 1364.5,673.1 1380.1,675.7"/>
</g>
<g clip-path="url(#cc)">
<rect x="3" y="747.5" width="1463" height="27" fill="#e8f3fd"/>
<rect x="3" y="760" width="1463" height="1" fill="#d8dfe6"/>
<rect x="54" y="747.5" width="1" height="27" fill="#d8dfe6"/>
<rect x="136" y="747.5" width="1" height="27" fill="#d8dfe6"/>
<rect x="218" y="747.5" width="1" height="27" fill="#d8dfe6"/>
<rect x="317" y="747.5" width="1" height="27" fill="#d8dfe6"/>
<rect x="400" y="747.5" width="1" height="27" fill="#d8dfe6"/>
<rect x="498" y="747.5" width="1" height="27" fill="#d8dfe6"/>
<rect x="589" y="747.5" width="1" height="27" fill="#d8dfe6"/>
<rect x="671" y="747.5" width="1" height="27" fill="#d8dfe6"/>
<rect x="754" y="747.5" width="1" height="27" fill="#d8dfe6"/>
<rect x="861" y="747.5" width="1" height="27" fill="#d8dfe6"/>
<rect x="943" y="747.5" width="1" height="27" fill="#d8dfe6"/>
<rect x="1034" y="747.5" width="1" height="27" fill="#d8dfe6"/>
<rect x="1124" y="747.5" width="1" height="27" fill="#d8dfe6"/>
<rect x="1207" y="747.5" width="1" height="27" fill="#d8dfe6"/>
<rect x="1289" y="747.5" width="1" height="27" fill="#d8dfe6"/>
<rect x="1388" y="747.5" width="1" height="27" fill="#d8dfe6"/>
<line x1="3" y1="747.5" x2="1466" y2="747.5" stroke="#62656f" stroke-width="1" stroke-dasharray="5 6"/>
<line x1="3" y1="760.5" x2="1466" y2="760.5" stroke="#8f929b" stroke-width="1" stroke-dasharray="5 6"/>
<line x1="3" y1="774.5" x2="1466" y2="774.5" stroke="#62656f" stroke-width="1" stroke-dasharray="5 6"/>
<polyline fill="none" stroke="#3a6bff" stroke-width="1.2" stroke-linejoin="round"  points="3.1,757.1 12.6,756.6 20.9,762.3 28.8,766.2 36.6,768.6 45.8,760.5 54.2,753.4 70.1,750.8 78,764.4 86.3,762.3 94.7,767.6 102,778.8 111.2,794.5 119.8,798.2 128.2,793.2 136,794.2 153,782.7 168.7,775.4 177.4,767.8 193.6,762.6 202,761 210.6,751.9 218.4,749.2 227.1,748.2 235.4,743 243.3,739.6 251.1,738 260.3,742.2 268.1,744.8 281.2,746.1 292.5,745.3 300.9,746.6 316.5,751.3 324.4,751.3 333.6,750.3 341.4,753.2 349.2,757.3 358.4,763.1 366.3,765.5 375.4,773 382.5,775.9 391.1,769.1 400,766.5 408.3,759.2 415.6,753.7 423.5,758.4 433.2,747.9 448.9,750.3 457.5,746.6 465.9,740.9 473.7,733.5 482.1,733.3 489.9,739.6 497.8,735.9 506.9,738.8 515,752.1 531.3,752.1 540.4,758.7 547.7,767 555.6,769.4 564,761 573.1,751.6 581,756 588.8,757.3 596.7,753.2 605,754.5 613.7,751.9 621.5,744.3 630.2,747.4 637.2,744.3 646.9,740.3 654.2,743.2 662.9,747.1 671.2,748.5 679.1,748.7 688.2,757.1 696.1,758.4 703.9,758.4 713.1,767 720.9,768.6 729.3,772.3 737.2,771 745.3,761 753.6,757.6 761.5,769.6 770.1,783 778,778.3 786.5,769.6 794.9,772.5 803,768.3 811.4,772.3 819.8,772.8 827.9,771 836.2,763.1 844.6,753.4 853.3,748.7 861.1,741.7 868.9,749.2 876.8,764.4 885.2,759.2 893.8,755.3 901.6,761 910.3,764.4 918.7,772.3 926.5,784 934.9,793.7 943.5,780.9 951.4,772.8 960,765.7 967.8,761 976.2,758.7 984.6,758.7 992.4,755.8 1001.1,755.5 1008.9,753.9 1017.3,753.7 1025.1,745.3 1033.8,724.6 1042.1,714.2 1050,719.9 1058.1,728.3 1066.5,733 1075.1,736.2 1083.5,740.3 1091.3,745.3 1099.7,746.4 1108.3,749 1116.2,750.5 1124,751.9 1131.9,752.6 1140.5,750.5 1148.9,748.7 1156.7,752.6 1165.1,752.6 1172.4,751.1 1182.6,747.7 1190.5,735.1 1198.3,729.9 1207.5,728.3 1215.3,728.6 1223.2,731.2 1231.6,736.9 1239.4,737.7 1255.9,738.5 1264.3,743 1272.4,742.7 1280.7,743.5 1289.4,746.1 1297.7,746.4 1305.6,748.7 1322.6,746.9 1330.4,753.4 1338.3,760 1346.1,760.7 1355.3,760.7 1362.6,758.1 1371,762.1 1380.1,767"/>
</g>
<rect x="1466" y="3" width="1" height="829" fill="#4a4a4a"/>
<rect x="3" y="804" width="1523" height="1" fill="#3c3c3c"/>
<text x="1474.5" y="70.85" font-size="12" fill="#555" textLength="41.5" lengthAdjust="spacingAndGlyphs" >2400.00</text>
<text x="1474.5" y="109.26" font-size="12" fill="#555" textLength="41.5" lengthAdjust="spacingAndGlyphs" >2360.00</text>
<text x="1474.5" y="147.67" font-size="12" fill="#555" textLength="41.5" lengthAdjust="spacingAndGlyphs" >2320.00</text>
<text x="1474.5" y="186.08" font-size="12" fill="#555" textLength="41.5" lengthAdjust="spacingAndGlyphs" >2280.00</text>
<text x="1474.5" y="224.49" font-size="12" fill="#555" textLength="41.5" lengthAdjust="spacingAndGlyphs" >2240.00</text>
<text x="1474.5" y="262.9" font-size="12" fill="#555" textLength="41.5" lengthAdjust="spacingAndGlyphs" >2200.00</text>
<text x="1474.5" y="301.31" font-size="12" fill="#555" textLength="41.5" lengthAdjust="spacingAndGlyphs" >2160.00</text>
<text x="1474.5" y="339.72" font-size="12" fill="#555" textLength="41.5" lengthAdjust="spacingAndGlyphs" >2120.00</text>
<text x="1474.5" y="378.13" font-size="12" fill="#555" textLength="41.5" lengthAdjust="spacingAndGlyphs" >2080.00</text>
<text x="1474.5" y="416.54" font-size="12" fill="#555" textLength="41.5" lengthAdjust="spacingAndGlyphs" >2040.00</text>
<text x="1474.5" y="454.95" font-size="12" fill="#555" textLength="41.5" lengthAdjust="spacingAndGlyphs" >2000.00</text>
<text x="1474.5" y="493.36" font-size="12" fill="#555" textLength="41.5" lengthAdjust="spacingAndGlyphs" >1960.00</text>
<text x="1474.5" y="531.77" font-size="12" fill="#555" textLength="41.5" lengthAdjust="spacingAndGlyphs" >1920.00</text>
<text x="1474.5" y="570.18" font-size="12" fill="#555" textLength="41.5" lengthAdjust="spacingAndGlyphs" >1880.00</text>
<text x="1474.5" y="608.59" font-size="12" fill="#555" textLength="41.5" lengthAdjust="spacingAndGlyphs" >1840.00</text>
<text x="1474.5" y="647" font-size="12" fill="#555" textLength="41.5" lengthAdjust="spacingAndGlyphs" >1800.00</text>
<text x="1474.5" y="696.4" font-size="12" fill="#555" textLength="28.6" lengthAdjust="spacingAndGlyphs" >25.00</text>
<text x="1474.5" y="730.8" font-size="12" fill="#555" textLength="35.2" lengthAdjust="spacingAndGlyphs" >250.00</text>
<text x="1474.5" y="764.8" font-size="12" fill="#555" textLength="22" lengthAdjust="spacingAndGlyphs" >0.00</text>
<text x="1474.5" y="798.8" font-size="12" fill="#555" textLength="42" lengthAdjust="spacingAndGlyphs" >−250.00</text>
<path d="M1466 173H1520a2 2 0 0 1 2 2V188a2 2 0 0 1 -2 2H1466z" fill="#000"/>
<text x="1474" y="185.9" font-size="12" fill="#fff" font-weight="bold" textLength="41.4" lengthAdjust="spacingAndGlyphs" >2280.57</text>
<path d="M1466 257H1520a2 2 0 0 1 2 2V272a2 2 0 0 1 -2 2H1466z" fill="#000"/>
<text x="1474" y="269.9" font-size="12" fill="#fff" font-weight="bold" textLength="41.4" lengthAdjust="spacingAndGlyphs" >2193.44</text>
<path d="M1466 301H1520a2 2 0 0 1 2 2V316a2 2 0 0 1 -2 2H1466z" fill="#000"/>
<text x="1474" y="313.9" font-size="12" fill="#fff" font-weight="bold" textLength="41.4" lengthAdjust="spacingAndGlyphs" >2147.28</text>
<path d="M1466 455H1520a2 2 0 0 1 2 2V470a2 2 0 0 1 -2 2H1466z" fill="#000"/>
<text x="1474" y="467.9" font-size="12" fill="#fff" font-weight="bold" textLength="41.4" lengthAdjust="spacingAndGlyphs" >1987.90</text>
<path d="M1466 472H1520a2 2 0 0 1 2 2V487a2 2 0 0 1 -2 2H1466z" fill="#000"/>
<text x="1474" y="484.9" font-size="12" fill="#fff" font-weight="bold" textLength="41.4" lengthAdjust="spacingAndGlyphs" >1972.75</text>
<path d="M1466 512H1520a2 2 0 0 1 2 2V527a2 2 0 0 1 -2 2H1466z" fill="#000"/>
<text x="1474" y="524.9" font-size="12" fill="#fff" font-weight="bold" textLength="41.4" lengthAdjust="spacingAndGlyphs" >1928.04</text>
<path d="M1466 625H1520a2 2 0 0 1 2 2V640a2 2 0 0 1 -2 2H1466z" fill="#000"/>
<text x="1474" y="637.9" font-size="12" fill="#fff" font-weight="bold" textLength="41.4" lengthAdjust="spacingAndGlyphs" >1810.48</text>
<text x="54.5" y="821.8" font-size="11.5" fill="#555" text-anchor="middle" >18</text>
<text x="136.5" y="821.8" font-size="11.5" fill="#555" text-anchor="middle" >Oct</text>
<text x="218.5" y="821.8" font-size="11.5" fill="#555" text-anchor="middle" >16</text>
<text x="317.5" y="821.8" font-size="11.5" fill="#555" text-anchor="middle" >Nov</text>
<text x="400.5" y="821.8" font-size="11.5" fill="#555" text-anchor="middle" >15</text>
<text x="498.5" y="821.8" font-size="11.5" fill="#555" text-anchor="middle" >Dec</text>
<text x="589.5" y="821.8" font-size="11.5" fill="#555" text-anchor="middle" >18</text>
<text x="671.5" y="822" font-size="12" fill="#444" font-weight="bold" textLength="27.4" lengthAdjust="spacingAndGlyphs" text-anchor="middle" >2024</text>
<text x="754.5" y="821.8" font-size="11.5" fill="#555" text-anchor="middle" >15</text>
<text x="861.5" y="821.8" font-size="11.5" fill="#555" text-anchor="middle" >Feb</text>
<text x="943.5" y="821.8" font-size="11.5" fill="#555" text-anchor="middle" >15</text>
<text x="1034.5" y="821.8" font-size="11.5" fill="#555" text-anchor="middle" >Mar</text>
<text x="1124.5" y="821.8" font-size="11.5" fill="#555" text-anchor="middle" >18</text>
<text x="1207.5" y="821.8" font-size="11.5" fill="#555" text-anchor="middle" >Apr</text>
<text x="1289.5" y="821.8" font-size="11.5" fill="#555" text-anchor="middle" >15</text>
<text x="1388.5" y="821.8" font-size="11.5" fill="#555" text-anchor="middle" >May</text>
<circle cx="21.1" cy="18.9" r="9" fill="#d79e0b"/>
<path d="M19.4 15.1h3.1l1.6 2.8h-6.3zM16.3 19.1h2.5l1.2 2.8h-5.9zM23.2 19.1h2.9l1.7 2.8h-5.9z" fill="#fff"/>
<text x="33.8" y="24.6" font-size="15.5" fill="#454545" textLength="244.6" lengthAdjust="spacingAndGlyphs" >CFDs on Gold (US$ / OZ) · 1D · TVC</text>
<circle cx="302.9" cy="19" r="9" fill="#d6efe9"/><circle cx="302.9" cy="19" r="4" fill="#0a997f"/>
<text x="328.8" y="23.8" font-size="13" fill="#555" textLength="8.1" lengthAdjust="spacingAndGlyphs" >O</text>
<text x="338.6" y="23.8" font-size="13" fill="#5e1514" textLength="44.7" lengthAdjust="spacingAndGlyphs" >2335.45</text>
<text x="390.3" y="23.8" font-size="13" fill="#555" textLength="7.5" lengthAdjust="spacingAndGlyphs" >H</text>
<text x="399.2" y="23.8" font-size="13" fill="#5e1514" textLength="45.1" lengthAdjust="spacingAndGlyphs" >2336.29</text>
<text x="452" y="23.8" font-size="13" fill="#555" textLength="5.2" lengthAdjust="spacingAndGlyphs" >L</text>
<text x="458.4" y="23.8" font-size="13" fill="#5e1514" textLength="45.4" lengthAdjust="spacingAndGlyphs" >2316.54</text>
<text x="510.7" y="23.8" font-size="13" fill="#555" textLength="7" lengthAdjust="spacingAndGlyphs" >C</text>
<text x="518.8" y="23.8" font-size="13" fill="#5e1514" textLength="45.9" lengthAdjust="spacingAndGlyphs" >2316.70</text>
<text x="571.4" y="23.8" font-size="13" fill="#5e1514" textLength="37.5" lengthAdjust="spacingAndGlyphs" >−18.75</text>
<text x="614.5" y="23.8" font-size="13" fill="#5e1514" textLength="48.5" lengthAdjust="spacingAndGlyphs" >(−0.80%)</text>
<rect x="11.7" y="35.5" width="61" height="23" rx="4" fill="#fff" stroke="#f23645" stroke-width="1"/>
<text x="19.2" y="51.8" font-size="13" fill="#f23645" textLength="44.9" lengthAdjust="spacingAndGlyphs" >2316.67</text>
<text x="80.6" y="51" font-size="10.5" fill="#333" textLength="11.5" lengthAdjust="spacingAndGlyphs" >34</text>
<rect x="100.6" y="35.5" width="61" height="23" rx="4" fill="#fff" stroke="#2962ff" stroke-width="1"/>
<text x="108.7" y="51.8" font-size="13" fill="#2962ff" textLength="44.4" lengthAdjust="spacingAndGlyphs" >2317.01</text>
<text x="12.2" y="79.6" font-size="13" fill="#4d4d4d" textLength="17.2" lengthAdjust="spacingAndGlyphs" >MA</text>
<text x="32.4" y="79.6" font-size="13" fill="#4d4d4d" textLength="38.6" lengthAdjust="spacingAndGlyphs" >Ribbon</text>
<text x="76.1" y="79.6" font-size="13" fill="#4d4d4d" textLength="22.6" lengthAdjust="spacingAndGlyphs" >SMA</text>
<text x="102" y="79.6" font-size="13" fill="#4d4d4d" textLength="29" lengthAdjust="spacingAndGlyphs" >close</text>
<text x="136.4" y="79.6" font-size="13" fill="#4d4d4d" textLength="12.7" lengthAdjust="spacingAndGlyphs" >20</text>
<text x="153.4" y="79.6" font-size="13" fill="#4d4d4d" textLength="22.6" lengthAdjust="spacingAndGlyphs" >SMA</text>
<text x="179.5" y="79.6" font-size="13" fill="#4d4d4d" textLength="29.1" lengthAdjust="spacingAndGlyphs" >close</text>
<text x="213.5" y="79.6" font-size="13" fill="#4d4d4d" textLength="12.7" lengthAdjust="spacingAndGlyphs" >50</text>
<text x="230.9" y="79.6" font-size="13" fill="#4d4d4d" textLength="22.2" lengthAdjust="spacingAndGlyphs" >SMA</text>
<text x="257" y="79.6" font-size="13" fill="#4d4d4d" textLength="29" lengthAdjust="spacingAndGlyphs" >close</text>
<text x="292.2" y="79.6" font-size="13" fill="#4d4d4d" textLength="18.2" lengthAdjust="spacingAndGlyphs" >100</text>
<text x="315.3" y="79.6" font-size="13" fill="#4d4d4d" textLength="22.6" lengthAdjust="spacingAndGlyphs" >SMA</text>
<text x="341.8" y="79.6" font-size="13" fill="#4d4d4d" textLength="28.8" lengthAdjust="spacingAndGlyphs" >close</text>
<text x="375.5" y="79.6" font-size="13" fill="#4d4d4d" textLength="19.3" lengthAdjust="spacingAndGlyphs" >200</text>
<text x="403.6" y="79.6" font-size="13" fill="#f23645" textLength="45.1" lengthAdjust="spacingAndGlyphs" >2341.84</text>
<text x="455.2" y="79.6" font-size="13" fill="#2962ff" textLength="44.9" lengthAdjust="spacingAndGlyphs" >2221.86</text>
<circle cx="511" cy="75.4" r="2.9" fill="none" stroke="#333" stroke-width="1"/><path d="M508.4 80.2L513.7 70.4" stroke="#333" stroke-width="1"/>
<text x="520.9" y="79.6" font-size="13" fill="#111" textLength="44" lengthAdjust="spacingAndGlyphs" >2034.41</text>
<rect x="12.7" y="89.5" width="28" height="20" rx="4" fill="#fff" stroke="#d5d8e2" stroke-width="1"/>
<path d="M22.6 101.8l3.9-3.8 3.9 3.8" fill="none" stroke="#222" stroke-width="1.5"/>
<text x="12.2" y="689.3" font-size="13" fill="#4d4d4d" textLength="66.3" lengthAdjust="spacingAndGlyphs" >ATR 14 RMA</text>
<text x="88" y="689.3" font-size="13" fill="#bb2027" textLength="31.5" lengthAdjust="spacingAndGlyphs" >37.12</text>
<text x="12.2" y="731.5" font-size="13" fill="#4d4d4d" textLength="101.5" lengthAdjust="spacingAndGlyphs" >CCI 20 hlc3 SMA 5</text>
<text x="122.5" y="731.5" font-size="13" fill="#2962ff" textLength="38" lengthAdjust="spacingAndGlyphs" >−51.66</text>
<rect x="1470.5" y="7.5" width="51" height="25" rx="5" fill="#fff" stroke="#e0e3eb" stroke-width="1"/>
<text x="1474.4" y="23.8" font-size="12" fill="#131722" textLength="19.8" lengthAdjust="spacingAndGlyphs" >USD</text>
<path d="M1511.8 19.2l2.6 2.5 2.6-2.5" fill="none" stroke="#131722" stroke-width="1.3"/>
<rect x="13" y="773.9" width="33.5" height="17" fill="#fff"/>
<path d="M14.9 775.1h12.2v14.8h-6.1v-9.1h-6.1z" fill="#131722"/><circle cx="32" cy="778.1" r="3" fill="#131722"/><path d="M38.2 775.1h6.7l-6 14.8h-6.9z" fill="#131722"/>
<polygon points="1502.6,818.4 1499.45,823.86 1493.15,823.86 1490,818.4 1493.15,812.94 1499.45,812.94" fill="none" stroke="#131722" stroke-width="1.2"/><circle cx="1496.3" cy="818.4" r="1.9" fill="none" stroke="#131722" stroke-width="1.2"/>
<g filter="url(#ws)" opacity="0.86"><g fill="none" stroke="#fff" stroke-linejoin="round" stroke-linecap="butt"><polyline points="1295.6,743.5 1302.8,743.8" stroke-width="7"/><polyline points="1294.8,751.7 1302.8,751.9" stroke-width="7"/><polyline points="1284.3,789.8 1291.4,788.1 1299.4,772.6" stroke-width="7.5"/><polyline points="1325.1,738.7 1318.4,744.8" stroke-width="7"/><polyline points="1309.1,744.1 1345.7,744.1" stroke-width="7.6"/><polyline points="1312.5,754 1342.3,754" stroke-width="7.6"/><polyline points="1312.5,754 1301.9,790.2" stroke-width="7.6"/><polyline points="1342.3,753.2 1333.1,786.9 1328.9,790.2 1301.9,790.2" stroke-width="7.6"/><polyline points="1300.3,771.3 1343.2,771.3" stroke-width="7.6"/><polyline points="1322.6,759.9 1325.5,767.1" stroke-width="4"/><polyline points="1317.9,776.4 1320.9,784.3" stroke-width="4"/><polyline points="1355.6,742.9 1405.2,742.9" stroke-width="7.6"/><polyline points="1405.2,742.9 1394.5,786.9 1390.5,790.2 1371.1,790.2" stroke-width="7.6"/><polyline points="1360,742.9 1355.6,765.4" stroke-width="7.6"/><polyline points="1349.3,765.4 1390.1,765.4" stroke-width="7.6"/><polyline points="1344.2,780.3 1383.1,780.3 1384.4,775.8" stroke-width="7.6"/><polyline points="1414.3,744.8 1407.6,778.5" stroke-width="7.6"/><polyline points="1414.3,745.2 1436.4,745.2" stroke-width="7.6"/><polyline points="1436.4,744.8 1425.4,780.1" stroke-width="7.6"/><polyline points="1424.6,749.8 1417.4,776.8 1403.9,791.9" stroke-width="6"/><polyline points="1419.1,776.8 1423.7,787.7" stroke-width="6"/><polyline points="1440.1,749.4 1457.4,749.4" stroke-width="7.6"/><polyline points="1461.4,740.6 1449.2,787.7 1446.7,789.9 1441,789.4" stroke-width="7.6"/><polyline points="1448.6,755.7 1432.6,791.1" stroke-width="7"/><polyline points="1492.3,740.2 1476.3,757.4 1491.1,757.4" stroke-width="7.5"/><polyline points="1491.1,757.4 1475.5,773.4 1489.8,773.4" stroke-width="7.5"/><polyline points="1469.2,783.5 1496.5,777.6" stroke-width="7.5"/><polyline points="1497,744.4 1525.6,744.4 1504.5,767.1" stroke-width="7.8"/><polyline points="1508.7,754.5 1522.6,766.7" stroke-width="7.8"/><polyline points="1497,772.6 1521.4,772.6" stroke-width="7.8"/><polyline points="1510.9,772.6 1507.9,786.9" stroke-width="7.8"/><polyline points="1488.1,787.7 1523.5,787.7" stroke-width="7.8"/></g></g><g filter="url(#bs)" opacity="0.78"><g font-size="30.5" font-weight="bold" font-style="italic" fill="#7dbcff" stroke="#7dbcff" stroke-width="1.2" stroke-linejoin="round"><text x="1293.9" y="825.6" textLength="19.8" lengthAdjust="spacingAndGlyphs">z</text><text x="1320.7" y="825.6" textLength="20.2" lengthAdjust="spacingAndGlyphs">z</text><text x="1349.1" y="825.6" textLength="15.7" lengthAdjust="spacingAndGlyphs">r</text><text x="1373.7" y="825.6" textLength="15" lengthAdjust="spacingAndGlyphs">t</text><text x="1395.7" y="825.6" textLength="19.4" lengthAdjust="spacingAndGlyphs">0</text><text x="1427.6" y="825.6" textLength="14.6" lengthAdjust="spacingAndGlyphs">1</text><text x="1450" y="825.6" textLength="9.8" lengthAdjust="spacingAndGlyphs">.</text><text x="1470.7" y="825.6" textLength="17" lengthAdjust="spacingAndGlyphs">c</text><text x="1497.9" y="825.6" textLength="18.5" lengthAdjust="spacingAndGlyphs">n</text></g></g>
</svg>
</body></html>
